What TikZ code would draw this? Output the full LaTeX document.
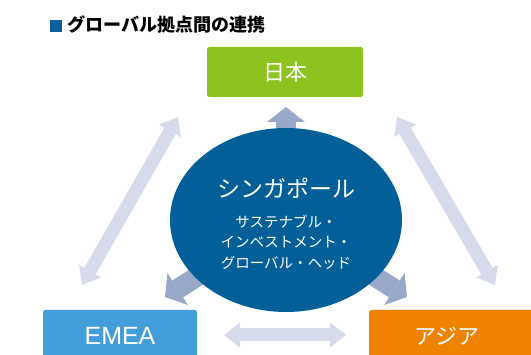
\documentclass[tikz,border=0pt]{standalone}
\usepackage{fontspec}
\setmainfont{Noto Sans CJK JP}
\newfontfamily\latfont{Liberation Sans}
\usetikzlibrary{arrows.meta,shapes.geometric}
\definecolor{cgreen}{HTML}{8DC21F}
\definecolor{cblue}{HTML}{429DD8}
\definecolor{corange}{HTML}{EF8200}
\definecolor{cnavy}{HTML}{035F98}
\definecolor{clight}{HTML}{D5DBEA}
\definecolor{cmid}{HTML}{98A8C9}
\definecolor{csq}{HTML}{11609E}
\begin{document}
\begin{tikzpicture}[x=1pt,y=-1pt,
  box/.style={rounded corners=2.5pt, inner sep=0pt},
  lbl/.style={text=white, inner sep=0pt},
  dbl/.style={draw=clight, line width=13pt,
    {Triangle[width=25pt,length=16pt,line width=0pt]}-{Triangle[width=25pt,length=16pt,line width=0pt]}},
  rad/.style={draw=cmid, line width=20pt,
    -{Triangle[width=38pt,length=15pt,line width=0pt]}}]
\useasboundingbox (0,0) rectangle (531,355);
\clip (0,0) rectangle (531,355);
% title
\node[fill=csq, minimum size=12pt, inner sep=0pt] (sq) at (56,26) {};
\node[anchor=west, inner sep=0pt, font=\bfseries\fontsize{18}{21}\selectfont] (title) at (67,25) {グローバル拠点間の連携};
% boxes
\node[box, fill=cgreen, minimum width=156pt, minimum height=50pt] (jp) at (285,72) {};
\node[lbl, font=\fontsize{22}{26}\selectfont] (jpt) at (285,72) {日本};
\node[box, fill=cblue, minimum width=154pt, minimum height=60pt] (emea) at (120,340) {};
\node[lbl, font=\latfont\fontsize{25}{28}\selectfont] (emeat) at (120,336) {EMEA};
\node[box, fill=corange, minimum width=172pt, minimum height=60pt] (asia) at (455,340) {};
\node[lbl, font=\fontsize{22}{26}\selectfont] (asiat) at (447,336) {アジア};
% connector end points
\coordinate (c) at (286,220);
\coordinate (l1) at (82,285);
\coordinate (l2) at (178,117);
\coordinate (r1) at (397,117);
\coordinate (r2) at (495,285);
\coordinate (b1) at (224,335);
\coordinate (b2) at (346,335);
\coordinate (tt) at (286,107);
\coordinate (tl) at (165,297);
\coordinate (tr) at (407,297);
% double arrows
\draw[dbl] (l1) -- (l2);
\draw[dbl] (r1) -- (r2);
\draw[dbl] (b1) -- (b2);
% radial arrows
\draw[rad] (c) -- (tt);
\draw[rad] (c) -- (tl);
\draw[rad] (c) -- (tr);
% ellipse
\node[ellipse, fill=cnavy, minimum width=232pt, minimum height=184pt, inner sep=0pt] (sg) at (c) {};
\node[lbl, font=\fontsize{23}{26}\selectfont] (sgt) at (286,188) {シンガポール};
\node[lbl, font=\fontsize{14.5}{20.5}\selectfont, align=center] (sgs) at (286,242) {サステナブル・\\インベストメント・\\グローバル・ヘッド};
\end{tikzpicture}
\end{document}
